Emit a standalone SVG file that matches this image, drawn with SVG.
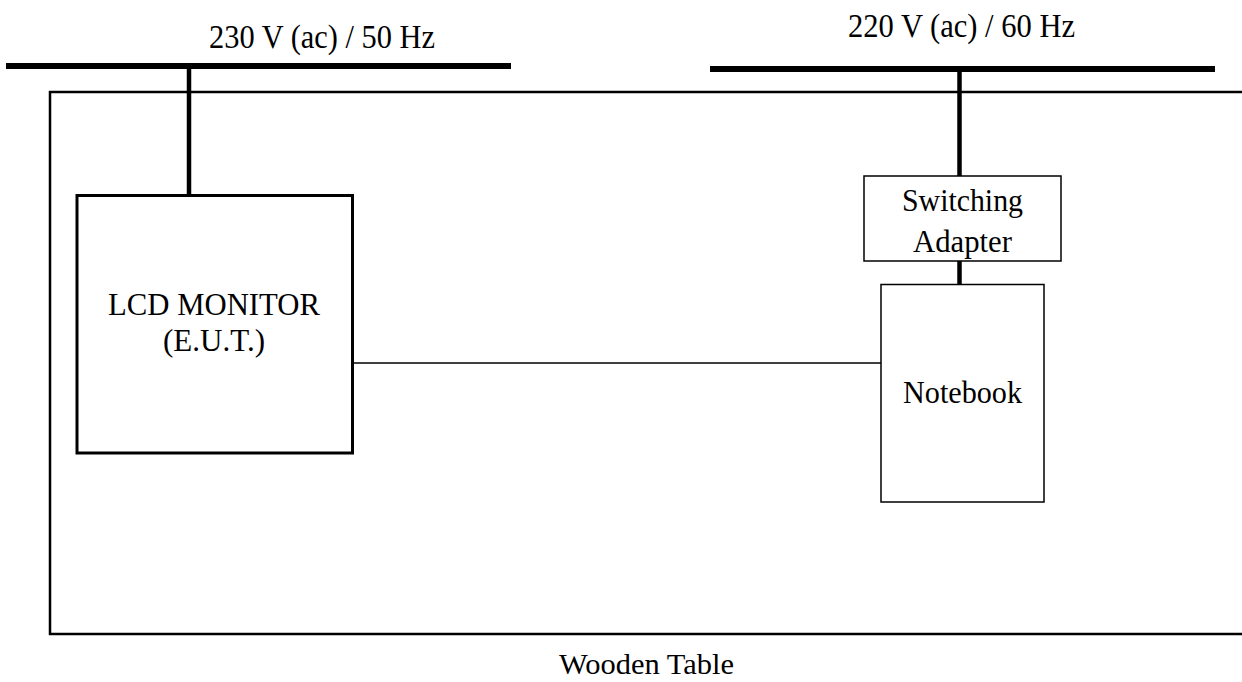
<svg xmlns="http://www.w3.org/2000/svg" width="1242" height="682" viewBox="0 0 1242 682">
<style>
text{font-family:"Liberation Serif","Times New Roman",serif;font-size:31px;fill:#000}
.lbl{font-size:33px}
.bus{stroke:#000;stroke-width:6;fill:none}
.pwr{stroke:#000;stroke-width:4.5;fill:none}
.box{fill:#fff;stroke:#000}
</style>
<rect width="1242" height="682" fill="#fff"/>
<g id="table">
<path d="M1242,92 H50 V634 H1242" fill="none" stroke="#000" stroke-width="2.5"/>
<text x="559" y="674" textLength="175" lengthAdjust="spacingAndGlyphs" style="font-size:30px">Wooden Table</text>
</g>
<g id="bus-230">
<line class="bus" x1="6" y1="66" x2="511" y2="66"/>
<text class="lbl" x="209" y="48" textLength="226" lengthAdjust="spacingAndGlyphs">230 V (ac) / 50 Hz</text>
</g>
<g id="bus-220">
<line class="bus" x1="710" y1="69" x2="1215" y2="69"/>
<text class="lbl" x="848" y="37" textLength="227" lengthAdjust="spacingAndGlyphs">220 V (ac) / 60 Hz</text>
</g>
<g id="connectors">
<line class="pwr" x1="189" y1="69" x2="189" y2="195"/>
<line class="pwr" x1="959.5" y1="72" x2="959.5" y2="176"/>
<line class="pwr" x1="959.5" y1="261" x2="959.5" y2="284"/>
<line x1="353" y1="363" x2="881" y2="363" stroke="#000" stroke-width="1.5"/>
</g>
<g id="lcd-monitor">
<rect class="box" x="77" y="195.5" width="275.5" height="257.5" stroke-width="3"/>
<text x="108" y="315" textLength="212" lengthAdjust="spacingAndGlyphs" style="font-size:32px">LCD MONITOR</text>
<text x="163" y="351" textLength="102" lengthAdjust="spacingAndGlyphs" style="font-size:32px">(E.U.T.)</text>
</g>
<g id="switching-adapter">
<rect class="box" x="864" y="176" width="197" height="85" stroke-width="1.5"/>
<text x="902" y="211" textLength="121" lengthAdjust="spacingAndGlyphs">Switching</text>
<text x="913" y="252" textLength="99" lengthAdjust="spacingAndGlyphs">Adapter</text>
</g>
<g id="notebook">
<rect class="box" x="881" y="284.5" width="163" height="217.5" stroke-width="1.5"/>
<text x="903" y="403" textLength="119" lengthAdjust="spacingAndGlyphs">Notebook</text>
</g>
</svg>
